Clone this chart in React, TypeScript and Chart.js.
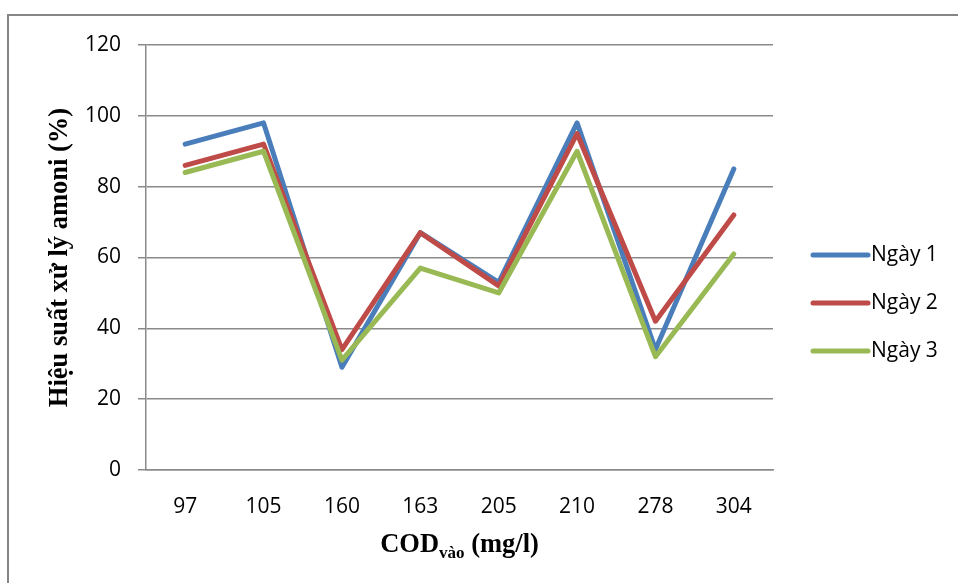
import React, { useEffect, useRef } from "react";
import { Chart, registerables } from "chart.js";

Chart.register(...registerables);

const categories = ["97", "105", "160", "163", "205", "210", "278", "304"];
const day1 = [92, 98, 29, 67, 53, 98, 34, 85];
const day2 = [86, 92, 34, 67, 52, 95, 42, 72];
const day3 = [84, 90, 31, 57, 50, 90, 32, 61];
const seriesNames = ["Ngày 1", "Ngày 2", "Ngày 3"];
const seriesColors = ["#4A7EBB", "#BE4B48", "#98B954"];
const yMin = 0;
const yMax = 120;
const yStep = 20;
const yTitle = "Hiệu suất xử lý amoni (%)";
const xTitleMain = "COD";
const xTitleSub = "vào";
const xTitleTail = " (mg/l)";

const GRID = "#8a8a8a";
const TICK_FONT = "'Open Sans', 'Noto Sans', sans-serif";
const SERIF = "'Liberation Serif', 'DejaVu Serif', serif";

const decorPlugin = {
  id: "decor",
  beforeDraw(chart: any) {
    const ctx = chart.ctx;
    ctx.save();
    ctx.fillStyle = "#ffffff";
    ctx.fillRect(0, 0, chart.width, chart.height);
    ctx.strokeStyle = "#868686";
    ctx.lineWidth = 2;
    ctx.beginPath();
    ctx.moveTo(8, chart.height + 2);
    ctx.lineTo(8, 15);
    ctx.lineTo(chart.width + 2, 15);
    ctx.stroke();
    ctx.restore();
  },
  afterDraw(chart: any) {
    const ctx = chart.ctx;
    const area = chart.chartArea;
    ctx.save();
    // Y title
    ctx.fillStyle = "#000";
    ctx.font = `bold 26.5px ${SERIF}`;
    ctx.translate(67, (area.top + area.bottom) / 2);
    ctx.rotate(-Math.PI / 2);
    ctx.textAlign = "center";
    ctx.textBaseline = "alphabetic";
    ctx.fillText(yTitle, 0, 0);
    ctx.restore();

    // X title with subscript
    ctx.save();
    ctx.fillStyle = "#000";
    ctx.textBaseline = "alphabetic";
    ctx.textAlign = "left";
    const mainFont = `bold 26.5px ${SERIF}`;
    const subFont = `bold 17px ${SERIF}`;
    ctx.font = mainFont;
    const w1 = ctx.measureText(xTitleMain).width;
    const w3 = ctx.measureText(xTitleTail).width;
    ctx.font = subFont;
    const w2 = ctx.measureText(xTitleSub).width;
    const total = w1 + w2 + w3;
    let x = (area.left + area.right) / 2 - total / 2;
    const base = 552;
    ctx.font = mainFont;
    ctx.fillText(xTitleMain, x, base);
    x += w1;
    ctx.font = subFont;
    ctx.fillText(xTitleSub, x, base + 6);
    x += w2;
    ctx.font = mainFont;
    ctx.fillText(xTitleTail, x, base);
    ctx.restore();

    // Legend
    ctx.save();
    const lx = area.right + 40;
    chart.data.datasets.forEach((ds: any, i: number) => {
      const y = 255 + i * 48;
      ctx.strokeStyle = ds.borderColor;
      ctx.lineWidth = 5;
      ctx.lineCap = "round";
      ctx.beginPath();
      ctx.moveTo(lx, y);
      ctx.lineTo(lx + 55, y);
      ctx.stroke();
      ctx.fillStyle = "#000";
      ctx.font = `21px ${TICK_FONT}`;
      ctx.textAlign = "left";
      ctx.textBaseline = "middle";
      ctx.fillText(ds.label, lx + 58, y);
    });
    ctx.restore();
  },
};

export default function App() {
  const ref = useRef<HTMLCanvasElement | null>(null);

  useEffect(() => {
    if (!ref.current) return;
    const series = [day1, day2, day3];
    const chart = new Chart(ref.current, {
      type: "line",
      data: {
        labels: categories,
        datasets: series.map((d, i) => ({
          label: seriesNames[i],
          data: d,
          borderColor: seriesColors[i],
          backgroundColor: seriesColors[i],
          borderWidth: 5,
          borderCapStyle: "round",
          borderJoinStyle: "round",
          pointRadius: 0,
          pointHoverRadius: 0,
          tension: 0,
          fill: false,
          order: series.length - i,
        })),
      },
      options: {
        animation: false,
        responsive: false,
        maintainAspectRatio: false,
        events: [],
        layout: { padding: { left: 0, top: 45, right: 185, bottom: 0 } },
        plugins: {
          legend: { display: false },
          tooltip: { enabled: false },
          title: { display: false },
        },
        scales: {
          x: {
            type: "category",
            offset: true,
            grid: { display: false, drawTicks: false },
            border: { display: true, color: GRID, width: 1.5 },
            ticks: {
              color: "#000",
              font: { family: TICK_FONT, size: 21 },
              padding: 24,
              maxRotation: 0,
              autoSkip: false,
            },
            afterFit: (s: any) => {
              s.height = 113;
            },
          },
          y: {
            min: yMin,
            max: yMax,
            ticks: {
              stepSize: yStep,
              color: "#000",
              font: { family: TICK_FONT, size: 21 },
              padding: 17,
            },
            grid: {
              color: GRID,
              lineWidth: 1.5,
              drawTicks: true,
              tickLength: 8,
            },
            border: { display: true, color: GRID, width: 1.5 },
            afterFit: (s: any) => {
              s.width = 146;
            },
          },
        },
      },
      plugins: [decorPlugin],
    } as any);
    return () => chart.destroy();
  }, []);

  return (
    <div style={{ position: "fixed", left: 0, top: 0, width: 958, height: 583, background: "#fff" }}>
      <canvas ref={ref} width={958} height={583} style={{ display: "block", width: 958, height: 583 }} />
    </div>
  );
}
